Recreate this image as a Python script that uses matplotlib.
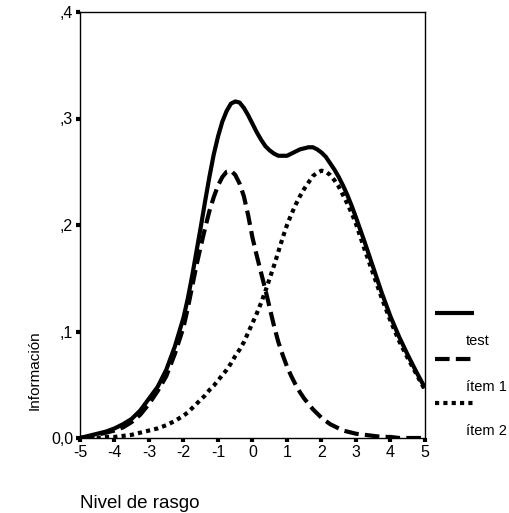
import matplotlib
matplotlib.use('Agg')
import matplotlib.pyplot as plt
from matplotlib.lines import Line2D

plt.rcParams['font.family'] = ['Liberation Sans', 'DejaVu Sans']

theta = [-5.0, -4.75, -4.5, -4.25, -4.0, -3.75, -3.5, -3.25, -3.0, -2.75, -2.5, -2.25,
         -2.0, -1.875, -1.75, -1.625, -1.5, -1.375, -1.25, -1.125,
         -1.0, -0.875, -0.75, -0.625, -0.5, -0.375, -0.25, -0.125,
         0.0, 0.125, 0.25, 0.375, 0.5, 0.625, 0.75, 0.875,
         1.0, 1.125, 1.25, 1.375, 1.5, 1.625, 1.75, 1.875,
         2.0, 2.125, 2.25, 2.375, 2.5, 2.625, 2.75, 2.875, 3.0,
         3.25, 3.5, 3.75, 4.0, 4.25, 4.5, 4.75, 5.0]

info_test = [0.000, 0.002, 0.004, 0.006, 0.009, 0.013, 0.018, 0.026, 0.037, 0.048, 0.064, 0.086,
             0.113, 0.131, 0.152, 0.175, 0.198, 0.222, 0.245, 0.266,
             0.283, 0.297, 0.307, 0.314, 0.316, 0.315, 0.310, 0.303,
             0.295, 0.287, 0.280, 0.274, 0.270, 0.267, 0.265, 0.265,
             0.265, 0.267, 0.269, 0.271, 0.272, 0.273, 0.273, 0.271,
             0.268, 0.264, 0.258, 0.252, 0.245, 0.237, 0.228, 0.218, 0.207,
             0.184, 0.160, 0.136, 0.114, 0.095, 0.078, 0.062, 0.047]

info_item1 = [0.000, 0.001, 0.003, 0.005, 0.007, 0.010, 0.015, 0.022, 0.032, 0.044, 0.058, 0.079,
              0.104, 0.122, 0.142, 0.162, 0.180, 0.197, 0.213, 0.226,
              0.237, 0.245, 0.250, 0.251, 0.247, 0.239, 0.227, 0.209,
              0.188, 0.171, 0.155, 0.139, 0.122, 0.105, 0.090, 0.078,
              0.067, 0.058, 0.050, 0.043, 0.037, 0.032, 0.027, 0.023,
              0.019, 0.016, 0.013, 0.011, 0.009, 0.007, 0.006, 0.005, 0.004,
              0.003, 0.002, 0.001, 0.001, 0.000, 0.000, 0.000, 0.000]

info_item2 = [0.000, 0.000, 0.000, 0.001, 0.001, 0.002, 0.003, 0.005, 0.007, 0.009, 0.012, 0.016,
              0.021, 0.024, 0.028, 0.032, 0.036, 0.040, 0.045, 0.049,
              0.054, 0.059, 0.064, 0.070, 0.077, 0.083, 0.090, 0.099,
              0.108, 0.117, 0.127, 0.138, 0.150, 0.162, 0.175, 0.188,
              0.200, 0.210, 0.219, 0.227, 0.234, 0.240, 0.246, 0.249,
              0.251, 0.250, 0.247, 0.242, 0.236, 0.228, 0.220, 0.211, 0.201,
              0.177, 0.154, 0.131, 0.110, 0.091, 0.075, 0.060, 0.045]

series_labels = ['test', 'ítem 1', 'ítem 2']
xticks = [-5, -4, -3, -2, -1, 0, 1, 2, 3, 4, 5]
yticks = [0.0, 0.1, 0.2, 0.3, 0.4]
ytick_labels = ['0,0', ',1', ',2', ',3', ',4']

fig = plt.figure(figsize=(5.10, 5.13), dpi=100)
ax = fig.add_axes([80/510, 1 - 438/513, 345/510, 426/513])

lw = 3.0
styles = [dict(linestyle='-'),
          dict(linestyle=(0, (3.5, 1.5))),
          dict(linestyle=(0, (1, 1)))]
series = [info_test, info_item1, info_item2]
for vals, st in zip(series, styles):
    ax.plot(theta, vals, color='black', lw=lw, solid_capstyle='butt',
            dash_capstyle='butt', solid_joinstyle='round', dash_joinstyle='round', **st)

ax.set_xlim(-5, 5)
ax.set_ylim(0, 0.4)
ax.set_xticks(xticks)
ax.set_xticklabels([str(t) for t in xticks])
ax.set_yticks(yticks)
ax.set_yticklabels(ytick_labels)
ax.tick_params(direction='out', length=3, width=3, labelsize=11.5, pad=2, color='black')
for sp in ax.spines.values():
    sp.set_linewidth(1)
    sp.set_color('black')

fig.text(35/510, 1 - 370/513, 'Información', rotation=90, ha='center', va='center', fontsize=11)
fig.text(80/510, 1 - 503/513, 'Nivel de rasgo', ha='left', va='center', fontsize=13.5)

# legend drawn SPSS style: handle above, label below
leg_y = [313, 359, 403]
for lab, st, yy in zip(series_labels, styles, leg_y):
    y = 1 - yy/513
    fig.add_artist(Line2D([435/510, 474/510], [y, y], color='black', lw=lw,
                          solid_capstyle='butt', dash_capstyle='butt',
                          transform=fig.transFigure, **st))
    fig.text(466/510, 1 - (yy + 28)/513, lab, ha='left', va='center', fontsize=10.5)

fig.savefig('out.png', dpi=100)
